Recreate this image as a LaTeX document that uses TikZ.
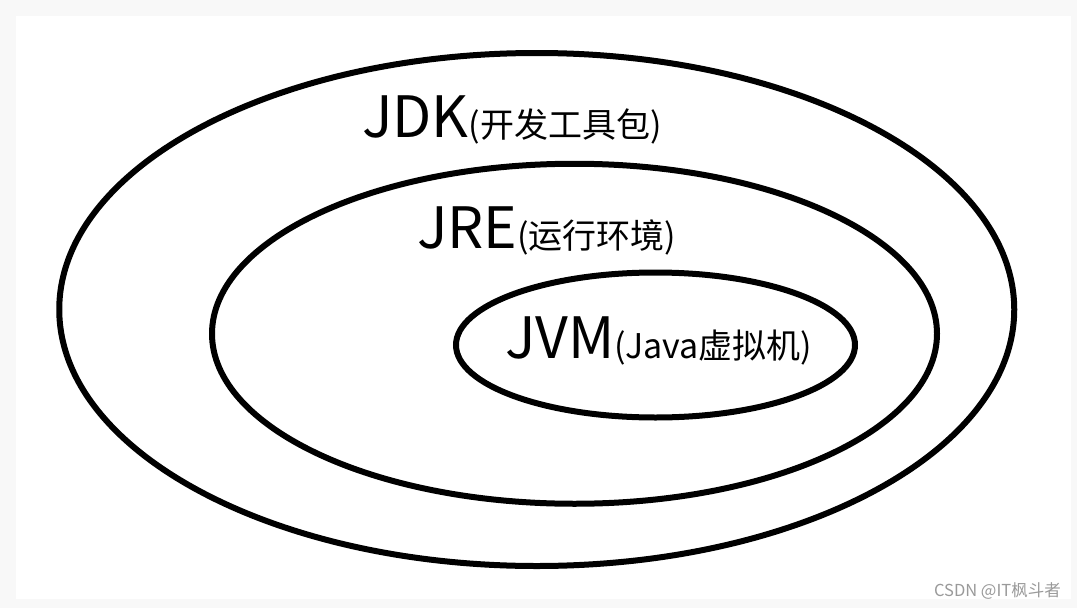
\documentclass[tikz,border=0pt]{standalone}
\usepackage{fontspec}
\setmainfont{Noto Sans CJK SC}
\usetikzlibrary{shapes.geometric, positioning}
\definecolor{pagegray}{HTML}{F8F8F8}
\definecolor{markgray}{HTML}{9A9A9A}
\newcommand{\cnpart}[1]{{\fontsize{34}{36}\selectfont #1}}
\tikzset{
  ring/.style={ellipse, draw=black, line width=6pt, inner sep=0pt},
  title/.style={anchor=base west, inner sep=0pt, font=\fontsize{57}{60}\selectfont},
  wmark/.style={anchor=base east, inner sep=0pt, text=markgray, font=\fontsize{16.5}{18}\selectfont},
}

\begin{document}
\begin{tikzpicture}[x=1pt, y=-1pt]
  % Background
  \fill[pagegray] (0,0) rectangle (1077,608);
  \fill[white] (16,16) rectangle (1071,599);
  \useasboundingbox (0,0) rectangle (1077,608);

  % Rings
  \node[ring, minimum width=955pt, minimum height=513pt] (jdk) at (536.75,309.5) {};
  \node[ring, minimum width=725pt, minimum height=340pt] (jre) at (574.5,333.75) {};
  \node[ring, minimum width=399pt, minimum height=145pt] (jvm) at (655.5,345) {};

  % Labels
  \node[title] (jdklabel) at (362,137) {JDK\cnpart{(开发工具包)}};
  \node[title] (jrelabel) at (417,248) {JRE\cnpart{(运行环境)}};
  \node[title] (jvmlabel) at (505,358) {JVM\cnpart{(Java虚拟机)}};

  % Watermark
  \node[wmark] (source) at (1061,596) {CSDN @IT枫斗者};
\end{tikzpicture}
\end{document}
